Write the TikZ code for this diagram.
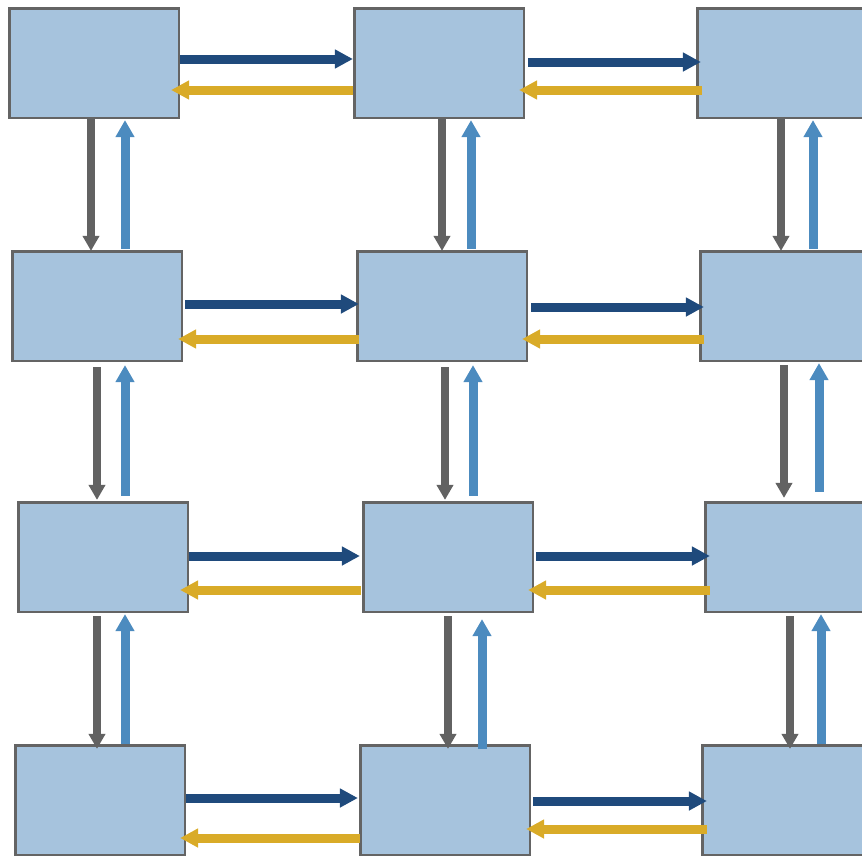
\documentclass[tikz,border=0pt]{standalone}
\usetikzlibrary{arrows.meta}
\definecolor{boxfill}{HTML}{A6C3DD}
\definecolor{boxline}{HTML}{646464}
\definecolor{darkblue}{HTML}{1F4A7C}
\definecolor{gold}{HTML}{D9AB28}
\definecolor{arrgray}{HTML}{626262}
\definecolor{lightblue}{HTML}{4C8BBF}
\begin{document}
\begin{tikzpicture}[x=1pt,y=-1pt,
  blk/.style={draw=boxline, fill=boxfill, line width=2.6pt, minimum width=169.6pt, minimum height=109.6pt, inner sep=0pt},
  darr/.style={draw=darkblue, line width=9pt, -{Triangle[length=18pt,width=18pt]}},
  yarr/.style={draw=gold, line width=9pt, -{Triangle[length=18pt,width=18pt]}},
  garr/.style={draw=arrgray, line width=8.5pt, -{Triangle[length=15pt,width=16pt]}},
  barr/.style={draw=lightblue, line width=9pt, -{Triangle[length=17pt,width=18pt]}}]
\useasboundingbox (0,0) rectangle (862,855);
\clip (0,0) rectangle (862,855);
% boxes
\node[blk] (n11) at (94,63) {};
\node[blk] (n12) at (439,63) {};
\node[blk] (n13) at (782,63) {};
\node[blk] (n21) at (97,306) {};
\node[blk] (n22) at (442,306) {};
\node[blk] (n23) at (785,306) {};
\node[blk] (n31) at (103,557) {};
\node[blk] (n32) at (448,557) {};
\node[blk] (n33) at (790,557) {};
\node[blk] (n41) at (100,800) {};
\node[blk] (n42) at (445,800) {};
\node[blk] (n43) at (787,800) {};
% horizontal arrows, column 1 -> 2
\draw[darr] (n11.east |- 0,59) -- (n12.west |- 0,59);
\draw[yarr] (n12.west |- 0,90) -- ([xshift=-9pt]n11.east |- 0,90);
\draw[darr] ([xshift=2pt]n21.east |- 0,304) -- ([xshift=3pt]n22.west |- 0,304);
\draw[yarr] ([xshift=3pt]n22.west |- 0,339) -- ([xshift=-5pt]n21.east |- 0,339);
\draw[darr] (n31.east |- 0,556) -- ([xshift=-2pt]n32.west |- 0,556);
\draw[yarr] ([xshift=-1pt]n32.west |- 0,590) -- ([xshift=-9pt]n31.east |- 0,590);
\draw[darr] (n41.east |- 0,798) -- ([xshift=-1pt]n42.west |- 0,798);
\draw[yarr] ([xshift=1pt]n42.west |- 0,838) -- ([xshift=-6pt]n41.east |- 0,838);
% horizontal arrows, column 2 -> 3
\draw[darr] ([xshift=3pt]n12.east |- 0,62) -- ([xshift=5pt]n13.west |- 0,62);
\draw[yarr] ([xshift=6pt]n13.west |- 0,90) -- ([xshift=-6pt]n12.east |- 0,90);
\draw[darr] ([xshift=3pt]n22.east |- 0,307) -- ([xshift=5pt]n23.west |- 0,307);
\draw[yarr] ([xshift=5pt]n23.west |- 0,339) -- ([xshift=-6pt]n22.east |- 0,339);
\draw[darr] ([xshift=2pt]n32.east |- 0,556) -- ([xshift=6pt]n33.west |- 0,556);
\draw[yarr] ([xshift=6pt]n33.west |- 0,590) -- ([xshift=-6pt]n32.east |- 0,590);
\draw[darr] ([xshift=2pt]n42.east |- 0,801) -- ([xshift=6pt]n43.west |- 0,801);
\draw[yarr] ([xshift=6pt]n43.west |- 0,829) -- ([xshift=-5pt]n42.east |- 0,829);
% vertical arrows, column 1
\draw[garr] (n11.south -| 91,0) -- ([yshift=-1pt]n21.north -| 91,0);
\draw[barr] ([yshift=1pt]n21.north -| 125,0) -- ([yshift=-1pt]n11.south -| 125,0);
\draw[garr] ([yshift=-5pt]n21.south -| 97,0) -- ([yshift=1pt]n31.north -| 97,0);
\draw[barr] ([yshift=5pt]n31.north -| 125,0) -- ([yshift=-3pt]n21.south -| 125,0);
\draw[garr] ([yshift=-3pt]n31.south -| 97,0) -- ([yshift=-5pt]n41.north -| 97,0);
\draw[barr] (n41.north -| 125,0) -- ([yshift=-1pt]n31.south -| 125,0);
% vertical arrows, column 2
\draw[garr] (n12.south -| 442,0) -- ([yshift=-1pt]n22.north -| 442,0);
\draw[barr] ([yshift=1pt]n22.north -| 471,0) -- ([yshift=-1pt]n12.south -| 471,0);
\draw[garr] ([yshift=-5pt]n22.south -| 445,0) -- ([yshift=1pt]n32.north -| 445,0);
\draw[barr] ([yshift=5pt]n32.north -| 473,0) -- ([yshift=-3pt]n22.south -| 473,0);
\draw[garr] ([yshift=-3pt]n32.south -| 448,0) -- ([yshift=-5pt]n42.north -| 448,0);
\draw[barr] ([yshift=-5pt]n42.north -| 482,0) -- ([yshift=-6pt]n32.south -| 482,0);
% vertical arrows, column 3
\draw[garr] (n13.south -| 781,0) -- ([yshift=-1pt]n23.north -| 781,0);
\draw[barr] ([yshift=1pt]n23.north -| 813,0) -- ([yshift=-1pt]n13.south -| 813,0);
\draw[garr] ([yshift=-3pt]n23.south -| 784,0) -- ([yshift=3pt]n33.north -| 784,0);
\draw[barr] ([yshift=9pt]n33.north -| 819,0) -- ([yshift=-1pt]n23.south -| 819,0);
\draw[garr] ([yshift=-3pt]n33.south -| 790,0) -- ([yshift=-5pt]n43.north -| 790,0);
\draw[barr] (n43.north -| 821,0) -- ([yshift=-1pt]n33.south -| 821,0);
\end{tikzpicture}
\end{document}
